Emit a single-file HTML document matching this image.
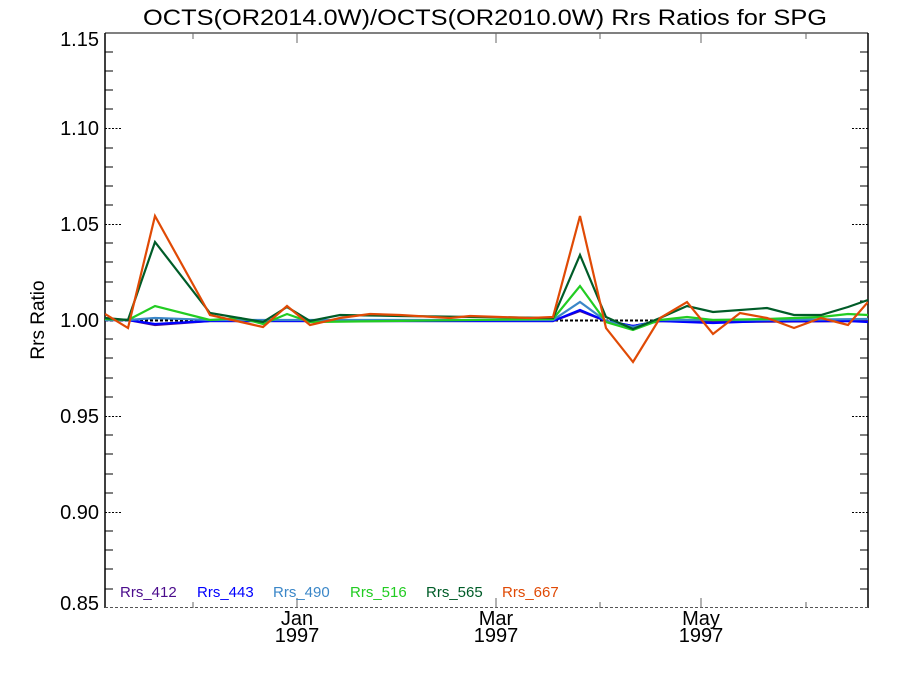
<!DOCTYPE html>
<html><head><meta charset="utf-8"><style>body{margin:0;background:#fff}svg{display:block}text{font-family:"Liberation Sans",Arial,sans-serif}</style></head>
<body>
<svg width="900" height="675" viewBox="0 0 900 675" xmlns="http://www.w3.org/2000/svg">
<rect width="900" height="675" fill="#fff"/>
<text x="485" y="25" font-size="22" text-anchor="middle" textLength="684" lengthAdjust="spacingAndGlyphs">OCTS(OR2014.0W)/OCTS(OR2010.0W)  Rrs Ratios for SPG</text>
<g font-size="20" text-anchor="end">
<text x="99" y="46">1.15</text>
<text x="99" y="135">1.10</text>
<text x="99" y="231">1.05</text>
<text x="99" y="327">1.00</text>
<text x="99" y="423">0.95</text>
<text x="99" y="519">0.90</text>
<text x="99" y="610">0.85</text>
</g>
<text transform="translate(44,320) rotate(-90)" font-size="19" text-anchor="middle">Rrs Ratio</text>
<g font-size="20" text-anchor="middle">
<text x="297" y="625">Jan</text><text x="297" y="642">1997</text>
<text x="496" y="625">Mar</text><text x="496" y="642">1997</text>
<text x="701" y="625">May</text><text x="701" y="642">1997</text>
</g>
<!-- frame -->
<line x1="105" y1="33" x2="868" y2="33" stroke="#000" stroke-width="1"/>
<line x1="105" y1="33" x2="105" y2="608" stroke="#000" stroke-width="1.5"/>
<line x1="868" y1="33" x2="868" y2="608" stroke="#000" stroke-width="1.5"/>
<line x1="105" y1="607.5" x2="868" y2="607.5" stroke="#555" stroke-width="1" stroke-dasharray="3,2"/>
<g stroke="#000" stroke-width="1">
<path d="M105 52h8M105 71h8M105 90h8M105 109h8M105 148h8M105 167h8M105 186h8M105 205h8M105 243h8M105 262h8M105 282h8M105 301h8M105 339h8M105 358h8M105 378h8M105 397h8M105 435h8M105 454h8M105 474h8M105 493h8M105 531h8M105 550h8M105 569h8M105 589h8"/>
<path d="M868 52h-8M868 71h-8M868 90h-8M868 109h-8M868 148h-8M868 167h-8M868 186h-8M868 205h-8M868 243h-8M868 262h-8M868 282h-8M868 301h-8M868 339h-8M868 358h-8M868 378h-8M868 397h-8M868 435h-8M868 454h-8M868 474h-8M868 493h-8M868 531h-8M868 550h-8M868 569h-8M868 589h-8"/>
</g>
<g stroke="#000" stroke-width="1" stroke-dasharray="2,1.5">
<path d="M105 128.5h16M105 224.5h16M105 320.5h16M105 416.5h16M105 512.5h16M868 128.5h-16M868 224.5h-16M868 320.5h-16M868 416.5h-16M868 512.5h-16"/>
</g>
<g stroke="#666" stroke-width="1">
<path d="M193 608v-6M297 608v-10M496 608v-10M600 608v-6M701 608v-10M806 608v-6"/>
<path d="M193 33v6M297 33v10M496 33v10M600 33v6M701 33v10M806 33v6"/>
</g>
<clipPath id="c"><rect x="105" y="33" width="763" height="575"/></clipPath>
<g clip-path="url(#c)" fill="none" stroke-width="2.2" stroke-linejoin="miter">
<line x1="105" y1="320.5" x2="868" y2="320.5" stroke="#000" stroke-width="2" stroke-dasharray="3,2"/>
<polyline stroke="#4b0c8c" points="105,320 128,320 155,325 210,321 400,321 553,321 580,311 606,321 633,326 660,321 713,322 868,321"/>
<polyline stroke="#0000ff" points="105,320 128,320 155,324 210,321 400,321 553,321 580,310 606,321 633,326 660,321 713,323 767,321 848,321 868,322"/>
<polyline stroke="#3b87c8" points="105,320 128,320 155,318 210,320 400,320 553,320 580,302 606,321 633,327 660,320 713,320 767,320 868,319"/>
<polyline stroke="#22cc22" points="105,319 128,320 155,306 210,320 240,318 263,324 287,314 310,322 553,319 580,286 606,322 633,330 660,320 687,317 713,320 767,319 821,317 848,314 868,315"/>
<polyline stroke="#005c28" points="105,318 128,320 155,242 210,313 263,322 287,307 310,321 340,315 400,316 553,318 580,255 606,317 633,329 660,318 687,306 713,312 767,308 794,315 821,315 848,307 868,300"/>
<polyline stroke="#e04a05" points="105,314 128,328 155,216 210,315 263,327 287,306 310,325 340,318 370,314 400,315 450,318 470,316 500,317 530,318 553,317 580,216 606,328 633,362 660,318 687,302 713,334 740,313 767,318 794,328 821,318 848,325 868,302"/>
</g>
<g font-size="15">
<text x="120" y="597" fill="#4b0c8c">Rrs_412</text>
<text x="197" y="597" fill="#0000ff">Rrs_443</text>
<text x="273" y="597" fill="#3b87c8">Rrs_490</text>
<text x="350" y="597" fill="#22cc22">Rrs_516</text>
<text x="426" y="597" fill="#005c28">Rrs_565</text>
<text x="502" y="597" fill="#e04a05">Rrs_667</text>
</g>
</svg>
</body></html>
